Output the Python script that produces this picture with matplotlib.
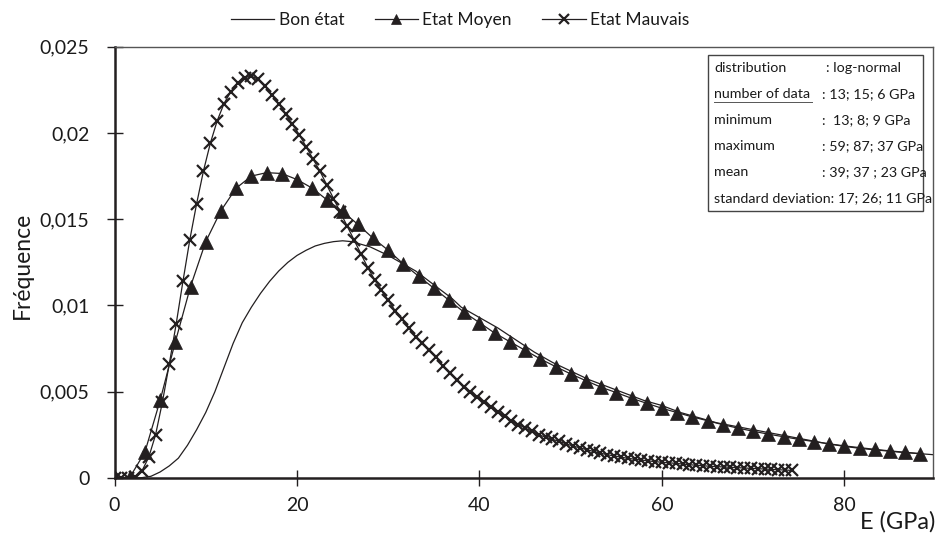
import matplotlib
matplotlib.use("Agg")
import matplotlib.pyplot as plt
from matplotlib.patches import Rectangle
from matplotlib.lines import Line2D

plt.rcParams['font.family'] = ['Lato', 'DejaVu Sans']

# ---- data ----
bon_x = [0, 1, 2, 3, 4, 5, 6, 7, 8, 9, 10, 11, 12, 13, 14, 15, 16, 17, 18, 19, 20,
         21, 22, 23, 24, 25, 26, 27, 28, 29, 30, 31, 32, 33, 34, 35, 36, 37, 38, 39, 40,
         42, 44, 46, 48, 50, 52, 54, 56, 58, 60, 62, 64, 66, 68, 70, 72, 74, 76, 78, 80,
         82, 84, 86, 88, 90]
bon_y = [0.0, 0.0, 0.0, 0.00002, 0.0001, 0.00035, 0.0007, 0.00115, 0.0019, 0.0028, 0.0038,
         0.0050, 0.0064, 0.0078, 0.0090, 0.0099, 0.0107, 0.0114, 0.0120, 0.0125, 0.0129,
         0.0132, 0.01345, 0.0136, 0.0137, 0.01375, 0.0137, 0.01355, 0.0134, 0.01315, 0.0129,
         0.0126, 0.0123, 0.0120, 0.0116, 0.0112, 0.0108, 0.0104, 0.0099, 0.0096, 0.0093,
         0.0087, 0.0080, 0.0073, 0.0067, 0.0062, 0.0057, 0.0053, 0.0049, 0.0045, 0.0042,
         0.0038, 0.0035, 0.0032, 0.0030, 0.0028, 0.0026, 0.0024, 0.0022, 0.0020, 0.00183,
         0.0017, 0.0016, 0.0015, 0.00142, 0.00134]

moyen_x = [0, 1.67, 3.33, 5.0, 6.67, 8.33, 10.0, 11.67, 13.33, 15.0, 16.67, 18.33, 20.0,
           21.67, 23.33, 25.0, 26.67, 28.33, 30.0, 31.67, 33.33, 35.0, 36.67, 38.33, 40.0,
           41.67, 43.33, 45.0, 46.67, 48.33, 50.0, 51.67, 53.33, 55.0, 56.67, 58.33, 60.0,
           61.67, 63.33, 65.0, 66.67, 68.33, 70.0, 71.67, 73.33, 75.0, 76.67, 78.33, 80.0,
           81.67, 83.33, 85.0, 86.67, 88.33]
moyen_y = [0.0, 0.00003, 0.0015, 0.0045, 0.0079, 0.0111, 0.0137, 0.0155, 0.0168, 0.0175,
           0.0177, 0.01765, 0.0173, 0.0168, 0.0161, 0.01545, 0.0147, 0.0139, 0.0132, 0.0124,
           0.0117, 0.0110, 0.0103, 0.0096, 0.0090, 0.0084, 0.0079, 0.0074, 0.0069, 0.00646,
           0.00603, 0.00564, 0.00526, 0.00495, 0.00462, 0.00433, 0.00404, 0.00379, 0.00354,
           0.00332, 0.00309, 0.00289, 0.00271, 0.00254, 0.00239, 0.00224, 0.00211, 0.00198,
           0.00186, 0.00176, 0.00166, 0.00157, 0.00149, 0.00141]

mauvais_x = [0, 0.75, 1.5, 2.25, 3, 3.75, 4.5, 5.25, 6, 6.75, 7.5, 8.25, 9, 9.75, 10.5,
             11.25, 12, 12.75, 13.5, 14.25, 15, 15.75, 16.5, 17.25, 18, 18.75, 19.5, 20.25,
             21, 21.75, 22.5, 23.25, 24, 24.75, 25.5, 26.25, 27, 27.75, 28.5, 29.25, 30,
             30.75, 31.5, 32.25, 33, 33.75, 34.5, 35.25, 36, 36.75, 37.5, 38.25, 39, 39.75,
             40.5, 41.25, 42, 42.75, 43.5, 44.25, 45, 45.75, 46.5, 47.25, 48, 48.75, 49.5,
             50.25, 51, 51.75, 52.5, 53.25, 54, 54.75, 55.5, 56.25, 57, 57.75, 58.5, 59.25,
             60, 60.75, 61.5, 62.25, 63, 63.75, 64.5, 65.25, 66, 66.75, 67.5, 68.25, 69,
             69.75, 70.5, 71.25, 72, 72.75, 73.5, 74.25]
mauvais_y = [0.0, 0.0, 0.0, 0.00008, 0.0004, 0.0012, 0.0025, 0.0044, 0.0066, 0.0089, 0.0114,
             0.0138, 0.0159, 0.0178, 0.0194, 0.0207, 0.0217, 0.0224, 0.0229, 0.0232, 0.0233,
             0.0231, 0.0227, 0.0222, 0.0217, 0.0211, 0.0205, 0.0199, 0.0192, 0.0185, 0.0178,
             0.0170, 0.0162, 0.0154, 0.0146, 0.0138, 0.0130, 0.0122, 0.0115, 0.0109, 0.0103,
             0.0097, 0.0092, 0.0087, 0.0082, 0.0078, 0.0074, 0.0070, 0.0065, 0.0061, 0.0057,
             0.0053, 0.0050, 0.0047, 0.0044, 0.0041, 0.0038, 0.0036, 0.0033, 0.0031, 0.0029,
             0.0027, 0.0025, 0.00237, 0.00224, 0.00212, 0.00198, 0.00185, 0.00175, 0.00164,
             0.00154, 0.00144, 0.00135, 0.00128, 0.00121, 0.00114, 0.00109, 0.00104, 0.00099,
             0.00095, 0.00091, 0.00088, 0.00085, 0.00081, 0.00077, 0.00074, 0.00071, 0.00068,
             0.00066, 0.00064, 0.00062, 0.00060, 0.00058, 0.00056, 0.00054, 0.00052, 0.00050,
             0.00048, 0.00046, 0.00044]

series_names = ["Bon état", "Etat Moyen", "Etat Mauvais"]
y_ticks = [0, 0.005, 0.01, 0.015, 0.02, 0.025]
y_tick_labels = ["0", "0,005", "0,01", "0,015", "0,02", "0,025"]
x_ticks = [0, 20, 40, 60, 80]
x_tick_labels = ["0", "20", "40", "60", "80"]

box_labels = ["distribution", "number of data", "minimum", "maximum", "mean",
              "standard deviation: 17; 26; 11 GPa"]
box_values = [": log-normal", ": 13; 15; 6 GPa", ":  13; 8; 9 GPa", ": 59; 87; 37 GPa",
              ": 39; 37 ; 23 GPa", ""]

# ---- figure ----
W, H = 935, 548
fig = plt.figure(figsize=(W / 100, H / 100), dpi=100)
ax = fig.add_axes([114.5 / W, 1 - 478 / H, (933 - 114.5) / W, (478 - 46.7) / H])

ink = "#231f20"
ax.plot(bon_x, bon_y, color=ink, lw=0.9, label=series_names[0])
ax.plot(moyen_x, moyen_y, color=ink, lw=0.9, marker="^", markersize=9.5,
        markerfacecolor=ink, markeredgecolor=ink, markeredgewidth=0.5,
        label=series_names[1])
ax.plot(mauvais_x, mauvais_y, color=ink, lw=0.9, marker="x", markersize=9,
        markeredgewidth=1.6, markeredgecolor=ink, label=series_names[2])

ax.set_xlim(0, 89.7)
ax.set_ylim(0, 0.025)
ax.set_xticks(x_ticks)
ax.set_xticklabels(x_tick_labels)
ax.set_yticks(y_ticks)
ax.set_yticklabels(y_tick_labels)
ax.tick_params(direction="inout", length=11, width=1.0, color=ink, labelsize=14,
               labelcolor="#1a1a1a")
ax.tick_params(axis="y", pad=12.5)
ax.tick_params(axis="x", pad=8)
for s in ["left", "bottom"]:
    ax.spines[s].set_linewidth(1.8)
    ax.spines[s].set_color(ink)
for s in ["top", "right"]:
    ax.spines[s].set_linewidth(1.0)
    ax.spines[s].set_color("#555555")

fig.text(22 / W, 1 - 265 / H, "Fréquence", rotation=90, ha="center", va="center",
         fontsize=16.5, color="#1a1a1a")
fig.text(935 / W, 1 - 522 / H, "E (GPa)", ha="right", va="center", fontsize=17,
         color="#1a1a1a")

leg = fig.legend(loc="center", bbox_to_anchor=(460 / W, 1 - 20 / H), ncol=3,
                 frameon=False, fontsize=12.5, handlelength=2.5, handletextpad=0.25,
                 columnspacing=1.75, markerscale=0.75)
for t in leg.get_texts():
    t.set_color("#1a1a1a")

# ---- statistics box ----
bx0, by0, bx1, by1 = 708, 55, 923, 211
rect = Rectangle((bx0 / W, 1 - by1 / H), (bx1 - bx0) / W, (by1 - by0) / H,
                 transform=fig.transFigure, facecolor="white", edgecolor="#444444",
                 lw=1.0, zorder=5)
fig.add_artist(rect)
row_y = [68, 94, 120, 146, 172, 198]
val_x = [826, 822, 822, 822, 822, 822]
for lab, val, yc, vx in zip(box_labels, box_values, row_y, val_x):
    fig.text(714 / W, 1 - yc / H, lab, ha="left", va="center", fontsize=10.3,
             color="#1a1a1a", zorder=6)
    if val:
        fig.text(vx / W, 1 - yc / H, val, ha="left", va="center", fontsize=10.3,
                 color="#1a1a1a", zorder=6)
# underline below "number of data" as in the reference
fig.add_artist(Line2D([714 / W, 812 / W], [1 - 102 / H, 1 - 102 / H],
                      transform=fig.transFigure, color="#555555", lw=0.7, zorder=6))

fig.savefig("out.png", dpi=100)
